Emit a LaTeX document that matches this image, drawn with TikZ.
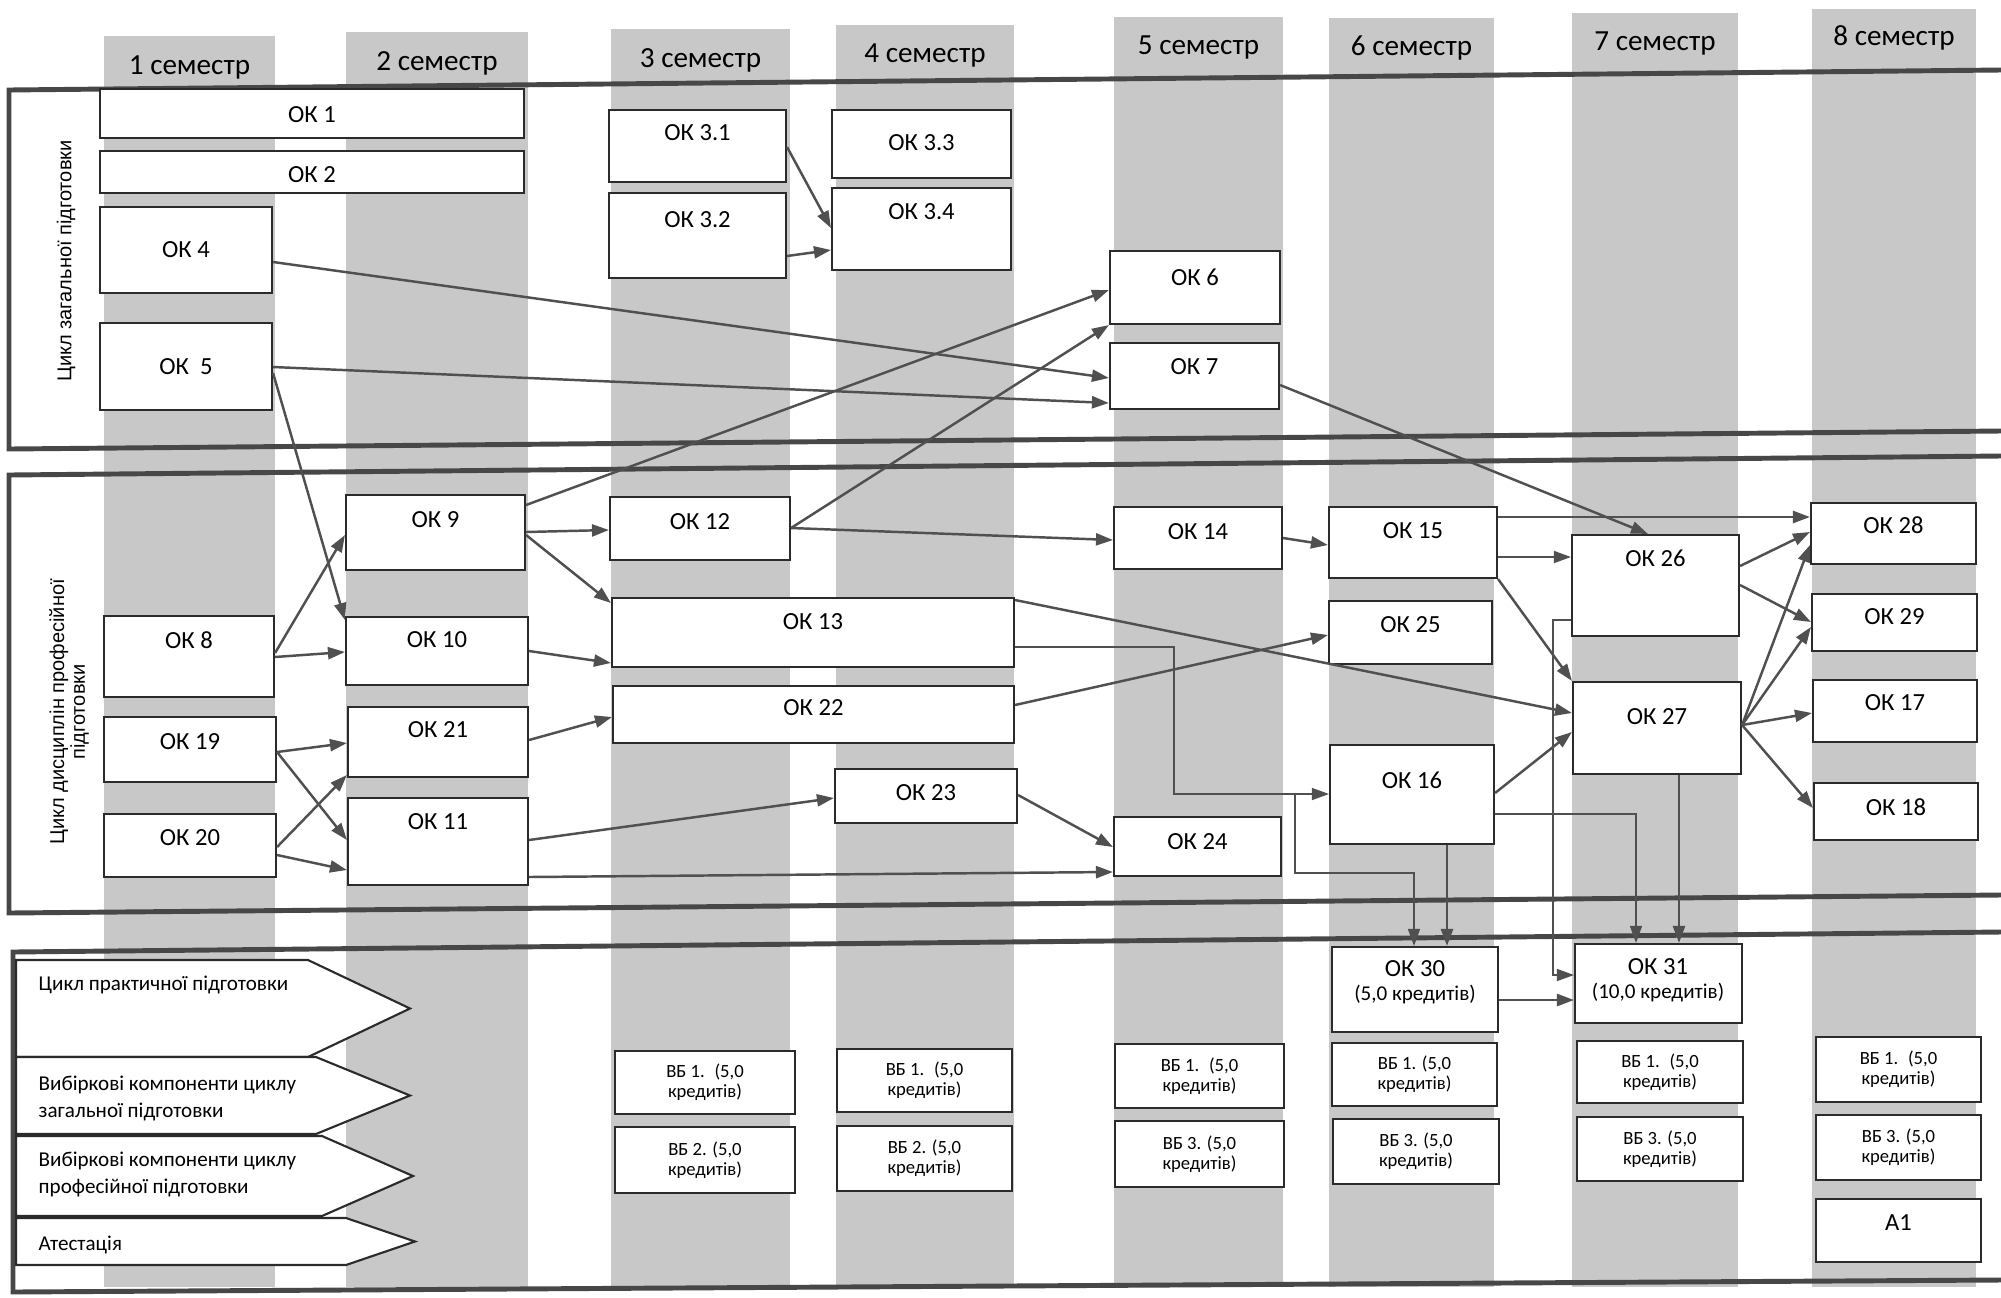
\documentclass[tikz,border=0pt]{standalone}
\usepackage{fontspec}
\setmainfont{Carlito}
\newfontfamily\arialfont{Liberation Sans}
\usetikzlibrary{arrows.meta,fit}

\definecolor{colgray}{HTML}{C8C8C8}
\definecolor{linegray}{HTML}{505050}
\definecolor{framegray}{HTML}{474747}
\definecolor{boxline}{HTML}{2B2B2B}

\tikzset{
  okbox/.style={draw=boxline, line width=0.6pt, fill=white, inner sep=0pt},
  oklabel/.style={font=\fontsize{7}{8}\selectfont, inner sep=0pt},
  twolabel/.style={font=\fontsize{7}{6.8}\selectfont, align=center, inner sep=0pt},
  vblabel/.style={font=\fontsize{5.3}{5.8}\selectfont, align=center, inner sep=0pt},
  semlabel/.style={font=\fontsize{8.3}{9}\selectfont, inner sep=0pt},
  sectlabel/.style={font=\arialfont\fontsize{5.7}{5.9}\selectfont, align=center, rotate=90, inner sep=0pt},
  cyclebox/.style={draw=boxline, line width=0.6pt, fill=white},
  cyclelabel/.style={font=\fontsize{6}{7.7}\selectfont, align=left, anchor=west, inner sep=0pt},
  conn/.style={draw=linegray, line width=0.7pt, -{Triangle[length=1.7mm,width=1.2mm]}},
  thinconn/.style={conn, line width=0.4pt},
  frameline/.style={draw=framegray, line width=1.4pt}
}

% box with its label: name, corner, corner, label y, label
\newcommand\okbox[5]{%
  \node[okbox, fit={(#2) (#3)}] (#1) {};
  \node[oklabel] (#1-t) at (#1.north |- 0,#4) {#5};
}
% elective box: name, corner, corner, label
\newcommand\vbbox[4]{%
  \node[okbox, fit={(#2) (#3)}] (#1) {};
  \node[vblabel] (#1-t) at (#1.center) {#4};
}
% cycle pointer: top, bottom, body end, tip
\newcommand\cyclearrow[4]{%
  \draw[cyclebox] (16,#1) -- (#3,#1) -- (#4,{(#1+#2)/2}) -- (#3,#2) -- (16,#2) -- cycle;
}

\begin{document}
\begin{tikzpicture}[x=0.1mm, y=-0.1mm]
\fill[white] (0,0) rectangle (2001,1297);
\useasboundingbox (0,0) rectangle (2001,1297);

% semester columns
\foreach \xa/\xb/\yt/\yl [count=\i] in {104/275/36/67, 346/528/32/63, 611/790/29/60,
    836/1014/25/55, 1114/1283/17/47, 1329/1494/18/48, 1572/1738/13/43, 1812/1976/9/38}{
  \fill[colgray] (\xa,\yt) rectangle (\xb,1287);
  \node[semlabel] (sem\i) at ({(\xa+\xb)/2},\yl) {\i~семестр};
}

% cycle frames
\draw[frameline] (2001,70) -- (9,90) -- (9,449) -- (2001,431);
\draw[frameline] (2001,456) -- (9,475) -- (9,913) -- (2001,895);
\draw[frameline] (2001,932) -- (13,952) -- (13,1292) -- (2001,1280);

\node[sectlabel] (sect1) at (66,261) {Цикл загальної підготовки};
\node[sectlabel] (sect2) at (69,712) {Цикл дисциплін професійної\\підготовки};

% general cycle
\okbox{ok1}{100,89}{524,138}{115}{ОК 1}
\okbox{ok2}{100,151}{524,193}{175}{ОК 2}
\okbox{ok31a}{609,110}{786,182}{133}{ОК 3.1}
\okbox{ok32}{609,193}{786,278}{220}{ОК 3.2}
\okbox{ok33}{832,110}{1011,178}{143}{ОК 3.3}
\okbox{ok34}{832,188}{1011,270}{212}{ОК 3.4}
\okbox{ok4}{100,207}{272,293}{250}{ОК 4}
\okbox{ok5}{100,323}{272,410}{367}{ОК\ \ 5}
\okbox{ok6}{1110,251}{1280,324}{277}{ОК 6}
\okbox{ok7}{1110,343}{1279,409}{367}{ОК 7}

% professional cycle
\okbox{ok9}{346,495}{525,570}{520}{ОК 9}
\okbox{ok12}{610,497}{790,560}{522}{ОК 12}
\okbox{ok13}{612,598}{1014,667}{622}{ОК 13}
\okbox{ok8}{104,616}{274,697}{640}{ОК 8}
\okbox{ok10}{346,617}{528,685}{640}{ОК 10}
\okbox{ok22}{613,686}{1014,743}{708}{ОК 22}
\okbox{ok19}{104,717}{276,782}{742}{ОК 19}
\okbox{ok21}{348,707}{528,777}{730}{ОК 21}
\okbox{ok23}{835,769}{1017,823}{793}{ОК 23}
\okbox{ok20}{104,814}{276,877}{838}{ОК 20}
\okbox{ok11}{348,798}{528,885}{822}{ОК 11}
\okbox{ok14}{1114,507}{1282,569}{532}{ОК 14}
\okbox{ok15}{1329,507}{1497,578}{531}{ОК 15}
\okbox{ok25}{1329,601}{1492,664}{625}{ОК 25}
\okbox{ok26}{1572,535}{1739,636}{558}{ОК 26}
\okbox{ok27}{1573,682}{1741,774}{717}{ОК 27}
\okbox{ok16}{1330,745}{1494,844}{780}{ОК 16}
\okbox{ok24}{1114,817}{1281,876}{842}{ОК 24}
\okbox{ok28}{1811,503}{1976,564}{525}{ОК 28}
\okbox{ok29}{1812,594}{1977,651}{617}{ОК 29}
\okbox{ok17}{1813,680}{1977,742}{703}{ОК 17}
\okbox{ok18}{1814,783}{1978,840}{807}{ОК 18}

% practice, electives, attestation
\cyclearrow{960}{1057}{308}{410}
\cyclearrow{1057}{1134}{316}{410}
\cyclearrow{1136}{1216}{322}{413}
\cyclearrow{1218}{1265}{346}{415}
\node[cyclelabel] (cyc1) at (38,985) {Цикл практичної підготовки};
\node[cyclelabel] (cyc2) at (38,1098) {Вибіркові компоненти циклу\\загальної підготовки};
\node[cyclelabel] (cyc3) at (38,1174) {Вибіркові компоненти циклу\\професійної підготовки};
\node[cyclelabel] (cyc4) at (38,1245) {Атестація};

\node[okbox, fit={(1332,947) (1498,1032)}] (ok30) {};
\node[twolabel] (ok30-t) at (1415,982) {ОК 30\\{\fontsize{6}{6}\selectfont(5,0 кредитів)}};
\node[okbox, fit={(1575,944) (1742,1023)}] (ok31) {};
\node[twolabel] (ok31-t) at (1658,980) {ОК 31\\{\fontsize{6}{6}\selectfont(10,0 кредитів)}};

\vbbox{vb31}{615,1051}{795,1114}{ВБ 1.~ (5,0\\кредитів)}
\vbbox{vb32}{615,1127}{795,1193}{ВБ 2. (5,0\\кредитів)}
\vbbox{vb41}{837,1049}{1012,1112}{ВБ 1.~ (5,0\\кредитів)}
\vbbox{vb42}{837,1126}{1012,1191}{ВБ 2. (5,0\\кредитів)}
\vbbox{vb51}{1115,1044}{1284,1108}{ВБ 1.~ (5,0\\кредитів)}
\vbbox{vb53}{1115,1121}{1284,1187}{ВБ 3. (5,0\\кредитів)}
\vbbox{vb61}{1332,1043}{1497,1106}{ВБ 1. (5,0\\кредитів)}
\vbbox{vb63}{1333,1119}{1499,1184}{ВБ 3. (5,0\\кредитів)}
\vbbox{vb71}{1577,1041}{1743,1103}{ВБ 1.~ (5,0\\кредитів)}
\vbbox{vb73}{1577,1117}{1743,1181}{ВБ 3. (5,0\\кредитів)}
\vbbox{vb81}{1816,1037}{1981,1102}{ВБ 1.~ (5,0\\кредитів)}
\vbbox{vb83}{1816,1115}{1981,1180}{ВБ 3. (5,0\\кредитів)}
\okbox{a1}{1816,1199}{1981,1262}{1223}{А1}

% connectors
\draw[conn] (ok31a.east |- 0,147) -- (ok34.west |- 0,228);
\draw[conn] (ok32.east |- 0,256) -- (ok34.west |- 0,250);
\draw[conn] (ok4.east |- 0,262) -- (ok7.west |- 0,378);
\draw[conn] (ok5.east |- 0,367) -- (ok7.west |- 0,403);
\draw[conn] (ok5.east |- 0,373) -- (ok10.west |- 0,620);
\draw[conn] (ok9.east |- 0,505) -- (ok6.west |- 0,290);
\draw[conn] (ok12.east |- 0,528) -- (ok6.south west);
\draw[conn] (ok9.east |- 0,532) -- (ok12.west |- 0,530);
\draw[conn] (ok9.east |- 0,535) -- (ok13.west |- 0,603);
\draw[conn] (ok8.east |- 0,653) -- (ok9.west |- 0,535);
\draw[conn] (ok8.east |- 0,657) -- (ok10.west |- 0,652);
\draw[conn] (ok10.east |- 0,651) -- (ok13.west |- 0,663);
\draw[conn] (ok21.east |- 0,740) -- (ok22.west |- 0,717);
\draw[conn] (ok19.east |- 0,752) -- (ok21.west |- 0,743);
\draw[conn] (ok19.east |- 0,752) -- (ok11.west |- 0,840);
\draw[conn] (ok20.east |- 0,847) -- (ok21.west |- 0,775);
\draw[conn] (ok20.east |- 0,855) -- (ok11.west |- 0,870);
\draw[conn] (ok11.east |- 0,840) -- (ok23.west |- 0,798);
\draw[conn] (ok11.east |- 0,877) -- (ok24.west |- 0,872);
\draw[conn] (ok12.east |- 0,528) -- (ok14.west |- 0,540);
\draw[conn] (ok13.east |- 0,600) -- (ok27.west |- 0,713);
\draw[thinconn] (ok13.east |- 0,647) -| (1174,794) -- coordinate[pos=0.78] (br13) (ok16.west |- 0,794);
\draw[thinconn] (br13) |- (1414,873) -- (ok30.north -| 1414,0);
\draw[conn] (ok22.east |- 0,705) -- (ok25.west |- 0,635);
\draw[conn] (ok23.east |- 0,795) -- (ok24.west |- 0,847);
\draw[conn] (ok14.east |- 0,538) -- (ok15.west |- 0,545);
\draw[conn] (ok15.east |- 0,517) -- (ok28.west |- 0,517);
\draw[thinconn] (ok15.east |- 0,557) -- (ok26.west |- 0,557);
\draw[conn] (ok15.south east) -- (ok27.north west);
\draw[conn] (ok7.east |- 0,385) -- (ok26.north -| 1648,0);
\draw[conn] (ok16.east |- 0,793) -- (ok27.west |- 0,732);
\draw[conn] (ok26.east |- 0,566) -- (ok28.west |- 0,532);
\draw[conn] (ok26.east |- 0,585) -- (ok29.west |- 0,622);
\draw[conn] (ok27.east |- 0,725) -- (ok28.west |- 0,545);
\draw[conn] (ok27.east |- 0,725) -- (ok29.west |- 0,627);
\draw[conn] (ok27.east |- 0,725) -- (ok17.west |- 0,713);
\draw[conn] (ok27.east |- 0,725) -- (ok18.west |- 0,808);
\draw[conn] (ok16.south -| 1447,0) -- (ok30.north -| 1447,0);
\draw[thinconn] (ok16.east |- 0,814) -| (ok31.north -| 1636,0);
\draw[conn] (ok27.south -| 1679,0) -- (ok31.north -| 1679,0);
\draw[thinconn] (ok26.west |- 0,620) -- (1553,620) |- (ok31.west |- 0,975);
\draw[conn] (ok30.east |- 0,1000) -- (ok31.west |- 0,1000);
\end{tikzpicture}
\end{document}
